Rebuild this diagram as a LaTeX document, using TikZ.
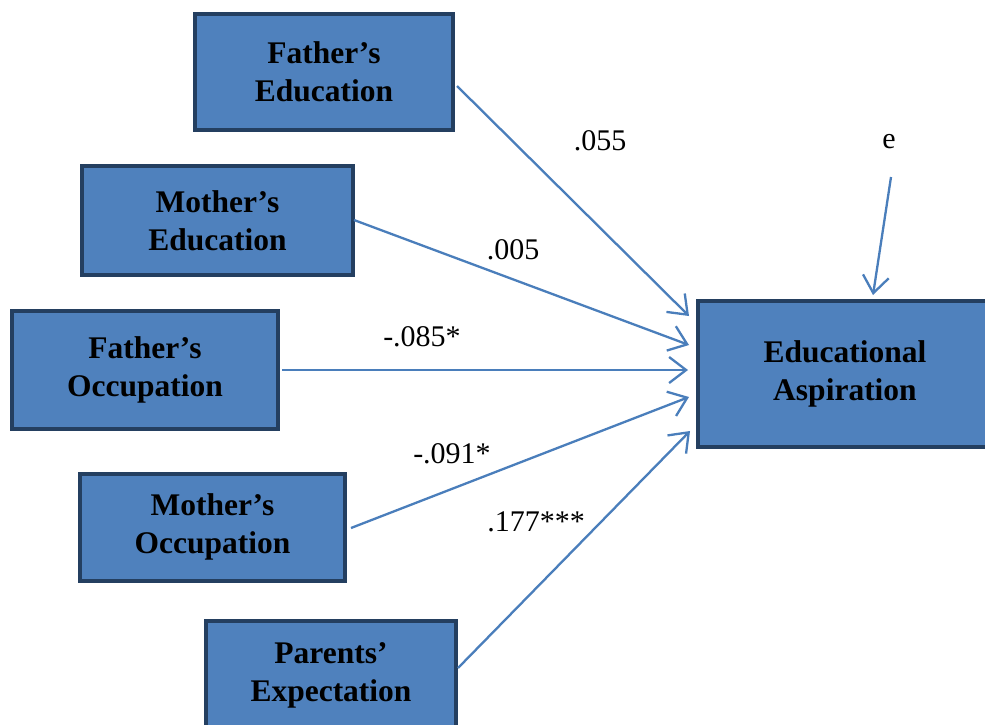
\documentclass[tikz,border=0pt]{standalone}
\usepackage{fontspec}
\setmainfont{Liberation Serif}
\usetikzlibrary{arrows.meta}
\definecolor{boxfill}{HTML}{4F81BD}
\definecolor{boxline}{HTML}{243F60}
\definecolor{arrowc}{HTML}{4A7EBB}
\tikzset{
  varbox/.style={rectangle, draw=boxline, fill=boxfill, line width=4pt,
    align=center, inner sep=0pt,
    font=\fontsize{31.5}{38}\selectfont\bfseries},
  path/.style={draw=arrowc, line width=2.3pt,
    -{Straight Barb[length=17pt,width=26pt,line width=2.3pt]}},
  coef/.style={font=\fontsize{30}{36}\selectfont, inner sep=0pt}
}
\begin{document}
\begin{tikzpicture}[x=1pt,y=-1pt]
\clip (0,0) rectangle (985,724);
\fill[white] (0,0) rectangle (985,724);
\node[varbox, minimum width=258pt, minimum height=116pt] (FE) at (324,72) {Father’s\\Education};
\node[varbox, minimum width=271pt, minimum height=109pt] (ME) at (217.5,220.5) {Mother’s\\Education};
\node[varbox, minimum width=266pt, minimum height=118pt] (FO) at (145,370) {Father’s\\Occupation};
\node[varbox, minimum width=265pt, minimum height=107pt] (MO) at (212.5,527) {Mother’s\\Occupation};
\node[varbox, minimum width=250pt, minimum height=108pt] (PE) at (331,675) {Parents’\\Expectation};
\node[varbox, minimum width=294pt, minimum height=146pt] (EA) at (845,374) {Educational\\Aspiration};
\node[coef] (e) at (889,142) {e};
\coordinate (t1) at (689,316);
\coordinate (t2) at (689,345);
\coordinate (t3) at (688,370);
\coordinate (t4) at (689,397);
\coordinate (t5) at (690,431);
\coordinate (te) at (873,295);
\draw[path] ([shift={(2,14)}]FE.east) -- (t1);
\draw[path] ([shift={(-1,-0.5)}]ME.east) -- (t2);
\draw[path] ([shift={(2,0)}]FO.east) -- (t3);
\draw[path] ([shift={(4,1)}]MO.east) -- (t4);
\draw[path] ([shift={(0,-7)}]PE.east) -- (t5);
\draw[path] ([shift={(2,35)}]e.center) -- (te);
\node[coef] (c1) at (600,141) {.055};
\node[coef] (c2) at (513,250) {.005};
\node[coef] (c3) at (422,337) {-.085*};
\node[coef] (c4) at (452,454) {-.091*};
\node[coef] (c5) at (536,522) {.177***};
\end{tikzpicture}
\end{document}
